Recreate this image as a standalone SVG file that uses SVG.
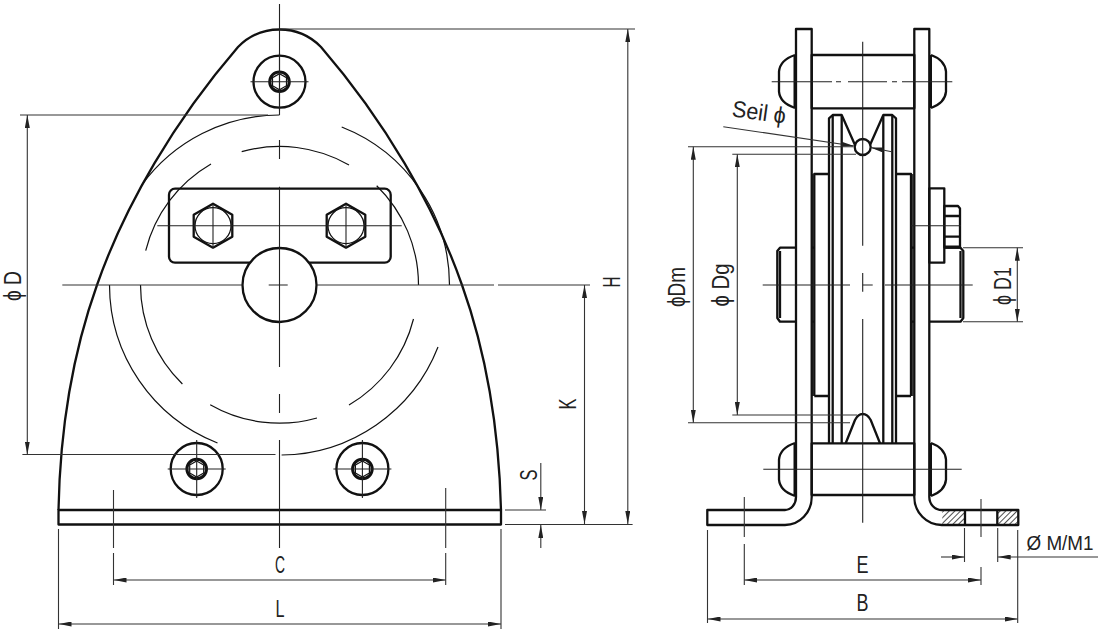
<svg xmlns="http://www.w3.org/2000/svg" width="1103" height="634" viewBox="0 0 1103 634">
<style>
.k{fill:none;stroke:#111;stroke-width:2.3;stroke-linejoin:round}
.kw{fill:#fff;stroke:#111;stroke-width:2.3;stroke-linejoin:round}
.f{fill:none;stroke:#111;stroke-width:1.2}
.c{fill:none;stroke:#222;stroke-width:1.1}
.d{fill:none;stroke:#333;stroke-width:1.1}
.da{fill:none;stroke:#333;stroke-width:1.1;marker-start:url(#a);marker-end:url(#a)}
.de{fill:none;stroke:#333;stroke-width:1.1;marker-end:url(#a)}
text{font-family:"Liberation Sans",Arial,sans-serif;font-size:23px;fill:#222;text-anchor:middle}
</style>
<defs>
<marker id="a" viewBox="0 0 13 5" refX="13" refY="2.5" markerWidth="13" markerHeight="5" markerUnits="userSpaceOnUse" orient="auto-start-reverse"><path d="M0,0L13,2.5L0,5Z" fill="#222"/></marker>
<pattern id="h" width="4" height="4" patternUnits="userSpaceOnUse" patternTransform="rotate(45)"><rect width="4" height="4" fill="#fff"/><line x1="0" y1="0" x2="0" y2="4" stroke="#222" stroke-width="1.6"/></pattern>
<g id="socket">
<circle r="26" class="k"/>
<circle r="9.8" fill="none" stroke="#111" stroke-width="3"/>
<path d="M0,-8L7,-4V4L0,8L-7,4V-4Z" class="f"/>
<path d="M-29,0H29M0,-29V29" class="c"/>
</g>
<g id="hexbolt">
<path d="M0,-22L19.3,-11V11L0,22L-19.3,11V-11Z" class="k"/>
<circle r="18" class="f"/>
<path d="M0,-22V22" class="c"/>
</g>
</defs>
<rect width="1103" height="634" fill="#fff"/>

<g id="front-body">
<path class="k" d="M58.5,510C60,430 72,355 97,285C125,205 175,120 238,47A58,58 0 0 1 321,47C384,120 434,205 462,285C487,355 499,430 501,510"/>
<rect class="k" x="58.5" y="510" width="442.5" height="14.5"/>
</g>
<g id="front-circles">
<path class="f" d="M279.5,115A170,170 0 0 0 141.7,185"/>
<path class="f" d="M341.7,127A170,170 0 0 1 449.5,285"/>
<path class="f" d="M109.5,285A170,170 0 0 0 217.5,443"/>
<path class="f" d="M281.6,455A170,170 0 0 0 438,347"/>
<path class="f" d="M241.7,151.7A139,139 0 0 1 349,165"/>
<path class="f" d="M211,164A139,139 0 0 0 145.7,250.7"/>
<path class="f" d="M376.7,185.7A139,139 0 0 1 418.5,285"/>
<path class="f" d="M140.5,285A139,139 0 0 0 182.4,384"/>
<path class="f" d="M210.2,404.7A139,139 0 0 0 317,418"/>
<path class="f" d="M349,405A139,139 0 0 0 413.5,319"/>
</g>
<g id="clamp-plate">
<rect class="k" x="169" y="188.7" width="221.7" height="74" rx="6"/>
</g>
<g id="hub"><circle class="kw" cx="279.5" cy="285" r="37"/></g>
<g id="bolt-top"><use href="#socket" x="279.5" y="81.7"/></g>
<g id="bolt-left"><use href="#socket" x="196.7" y="469"/></g>
<g id="bolt-right"><use href="#socket" x="362.4" y="469"/></g>
<g id="hex-left"><use href="#hexbolt" x="213" y="225.7"/></g>
<g id="hex-right"><use href="#hexbolt" x="346" y="225.7"/></g>
<g id="front-centerlines">
<path class="c" d="M279.5,4V115M279.5,140V159M279.5,186.7V367M279.5,394V413M279.5,440V548"/>
<path class="c" d="M157.3,225.7H401.7M268.7,285H287.7"/>
<path class="d" d="M62.3,285H242.3M317,285H494M498,285H590"/>
</g>

<g id="side-shafts">
<rect class="k" x="811.7" y="55" width="102.6" height="53.3"/>
<rect class="k" x="811.7" y="443.3" width="102.6" height="51.7"/>
</g>
<g id="side-rivets">
<path class="k" d="M795,55Q780,60 779,71.7V91.7Q780,103 795,108"/>
<path class="k" d="M931,55Q945,60 946,71.7V91.7Q945,103 931,108"/>
<path class="k" d="M795,443Q780,448 779,459.7V479.7Q780,491 795,496"/>
<path class="k" d="M931,443Q945,448 946,459.7V479.7Q945,491 931,496"/>
<path fill="none" stroke="#111" stroke-width="3" d="M795,55V108M795,443V496M930.5,55V108M930.5,443V496"/>
</g>
<g id="side-discs">
<path class="k" d="M814.3,396V174H829M829,396H814.3"/>
<path class="k" d="M911,396V174H896M896,396H911"/>
<path class="f" d="M812.8,174V396M912.8,174V396"/>
</g>
<g id="sheave">
<path class="k" d="M829,443.3V118.3L832.7,115H841.7L855,145"/>
<path class="k" d="M832.7,115V443.3M841.7,115V443.3"/>
<path class="k" d="M896,443.3V118.3L892.3,115H883.3L870,145"/>
<path class="k" d="M892.3,115V443.3M883.3,115V443.3"/>
<path class="k" d="M845.7,443.3L855,420Q858,414 862.7,414Q867.5,414 870.7,420L880,443.3"/>
<circle class="kw" cx="862.7" cy="147" r="8"/>
</g>
<g id="side-hub">
<path class="k" d="M796,247.7H780L777.3,251V318L780,321.7H796M780,251V318"/>
<path class="k" d="M811.7,247.7H814.3M811.7,321.7H814.3M911,247.7H914.3M911,321.7H914.3"/>
<path class="k" d="M929.3,247.7H960.5L963.3,251V318L960.5,321.7H929.3M960.5,251V318"/>
</g>
<g id="side-nut">
<rect class="kw" x="929.3" y="188.3" width="15" height="74.4"/>
<path class="k" d="M944.3,206H958L960,208.5V247.3H944.3Z"/>
<path class="k" d="M944.3,216H960M944.3,236.7H960"/>
<path fill="none" stroke="#111" stroke-width="3" d="M944.3,247H960"/>
</g>
<g id="side-plate-left">
<path class="k" d="M707.3,510H785A11,13 0 0 0 796,497V29H811.7V497A26.7,28 0 0 1 785,525H707.3Z"/>
</g>
<g id="side-plate-right">
<rect x="942.3" y="510.5" width="22.7" height="14.5" fill="url(#h)"/>
<rect x="997.3" y="510.5" width="21" height="14.5" fill="url(#h)"/>
<path class="k" d="M1018.3,510H941.7A12.4,13 0 0 1 929.3,497V29H914.3V497A27.4,28 0 0 0 941.7,525H1018.3Z"/>
<path class="k" d="M965,510V525M997.3,510V525"/>
</g>
<g id="side-centerlines">
<path class="c" d="M862.7,41.7V245.7M862.7,273V291.7M862.7,319V522.7"/>
<path class="c" d="M771.7,81.7H832M836,81.7H841M848,81.7H887M892,81.7H897M902,81.7H952.3"/>
<path class="c" d="M762.7,285H850M862.7,285H872.7M885,285H972.7"/>
<path class="c" d="M763.3,469.3H961.7"/>
<path class="c" d="M911,225.7H961"/>
</g>

<g id="connectors">
<path class="d" d="M20,115H268M22.4,454.5H275.5"/>
<path class="da" d="M27.3,115V454.5"/>
<path class="d" d="M280,29H635M505,524.5H632.6M505,510H546"/>
<path class="da" d="M627.8,29V524"/>
<path class="da" d="M584.5,285V524"/>
<path class="de" d="M540.8,463V510"/>
<path class="de" d="M540.8,548V525"/>
<path class="d" d="M113.5,490V548M113.5,553V585M445.7,488V548M445.7,553V585"/>
<path class="da" d="M113.5,580H445.7"/>
<path class="d" d="M58.5,529V629M501,529V629"/>
<path class="da" d="M58.5,624H501"/>
<path class="d" d="M688,146.7H853M688,422.7H850M732.3,154.3H856M732.3,415H857"/>
<path class="da" d="M693.3,146.7V422.7"/>
<path class="da" d="M737.3,154.3V415"/>
<path class="de" d="M723.3,126.7L854,146"/>
<path class="de" d="M891.7,151.7L870.5,147.5"/>
<path class="d" d="M963,247.7H1023M963,321.7H1023"/>
<path class="da" d="M1017.3,247.7V321.7"/>
<path class="d" d="M744.3,497V537M744.3,544V585M981,499V537M981,567V585"/>
<path class="da" d="M744.3,580H981"/>
<path class="d" d="M707.5,530V623M1017.7,530V623"/>
<path class="da" d="M707.5,619H1017.7"/>
<path class="d" d="M964.5,528V562M997.7,528V562"/>
<path class="de" d="M941,557H964.5"/>
<path class="de" d="M1098,557H997.7"/>
</g>
<g id="labels">
<text transform="translate(21,286) rotate(-90)" textLength="30" lengthAdjust="spacingAndGlyphs">ϕ D</text>
<text transform="translate(620,282) rotate(-90)" textLength="11" lengthAdjust="spacingAndGlyphs">H</text>
<text transform="translate(576,404) rotate(-90)" textLength="11" lengthAdjust="spacingAndGlyphs">K</text>
<text transform="translate(537,475) rotate(-90)" textLength="11" lengthAdjust="spacingAndGlyphs">S</text>
<text x="280" y="573" textLength="10" lengthAdjust="spacingAndGlyphs">C</text>
<text x="280" y="617" textLength="9" lengthAdjust="spacingAndGlyphs">L</text>
<text transform="translate(685,287) rotate(-90)" textLength="40" lengthAdjust="spacingAndGlyphs">ϕDm</text>
<text transform="translate(729,285) rotate(-90)" textLength="43" lengthAdjust="spacingAndGlyphs">ϕ Dg</text>
<text transform="translate(758,120) rotate(8)" textLength="54" lengthAdjust="spacingAndGlyphs">Seil ϕ</text>
<text transform="translate(1011,286) rotate(-90)" textLength="38" lengthAdjust="spacingAndGlyphs">ϕ D1</text>
<text x="862.5" y="573" textLength="12" lengthAdjust="spacingAndGlyphs">E</text>
<text x="862.5" y="611" textLength="12" lengthAdjust="spacingAndGlyphs">B</text>
<text x="1060" y="550" style="font-size:20px" textLength="67" lengthAdjust="spacingAndGlyphs">Ø M/M1</text>
</g>
</svg>
